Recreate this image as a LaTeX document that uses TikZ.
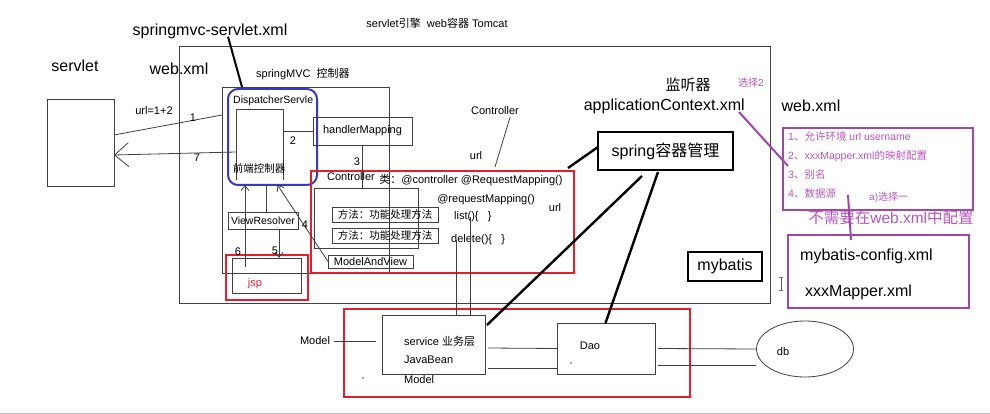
\documentclass[tikz,border=0pt]{standalone}
\usepackage{fontspec}
\setmainfont{Liberation Sans}
\newfontfamily\cjk{Noto Sans CJK SC}
\usetikzlibrary{arrows.meta,calc,shapes.geometric}
\definecolor{myred}{RGB}{228,30,45}
\definecolor{myblue}{RGB}{55,55,200}
\definecolor{mypurple}{RGB}{160,70,170}
\definecolor{ptext}{RGB}{185,85,190}
\begin{document}
\begin{tikzpicture}[x=1pt,y=-1pt,
  box/.style={draw=black!75,line width=0.8pt,inner sep=0pt,outer sep=0pt,anchor=north west},
  lbl/.style={inner sep=0pt,font=\fontsize{11}{13}\selectfont},
  sml/.style={inner sep=0pt,font=\fontsize{10.5}{12}\selectfont},
  big/.style={inner sep=0pt,font=\fontsize{16}{19}\selectfont},
  plbl/.style={inner sep=0pt,text=ptext,font=\fontsize{10.5}{12}\selectfont,anchor=west},
  thinline/.style={draw=black!75,line width=0.8pt},
  thickline/.style={draw=black,line width=2.4pt},
  redbox/.style={box,draw=myred,line width=2pt},
  purplebox/.style={box,draw=mypurple,line width=2pt},
  smallarrow/.style={-{Straight Barb[length=5pt,width=8pt]}}
]
\useasboundingbox[fill=white] (0,0) rectangle (990,414);

% ---------- texts on top ----------
\node[big] (smx) at (210,31) {springmvc-servlet.xml};
\node[big] (tservlet) at (75,66) {servlet};
\node[big] (twebxml) at (179,69) {web.xml};
\node[lbl] (ttomcat) at (437,23) {servlet{\cjk 引擎}\ \ web{\cjk 容器} Tomcat};
\node[lbl,anchor=west] (tsmvc) at (256,74) {springMVC\ \ {\cjk 控制器}};

% ---------- boxes ----------
\node[box,minimum width=67pt,minimum height=87pt] (servlet) at (47,99) {};
\node[box,minimum width=591pt,minimum height=257pt] (tomcat) at (179,46) {};
\node[box,minimum width=167pt,minimum height=186pt] (smvc) at (222,87) {};
\node[box,draw=myblue,line width=2pt,rounded corners=10pt,minimum width=89pt,minimum height=96pt] (disp) at (228,89) {};
\node[sml,anchor=west] (dstext) at (233,101) {DispatcherServle};
\node[inner sep=0pt,outer sep=0pt,anchor=north west,minimum width=47pt,minimum height=71pt] (front) at (236,109) {};
\draw[thinline] (front.south west) -- (front.north west) -- (front.north east) -- (front.south east);
\node[sml] (fronttext) at (259,168) {\cjk 前端控制器};

\node[box,minimum width=99pt,minimum height=28pt,font=\fontsize{11}{13}\selectfont] (hm) at (313,117) {handlerMapping};

\node[redbox,minimum width=263pt,minimum height=102pt] (ctrl) at (311,171) {};
\node[box,minimum width=104pt,minimum height=60pt] (meth) at (314,188) {};
\node[box,minimum width=106pt,minimum height=15pt,font=\fontsize{10.5}{12}\selectfont] (m1) at (332,207) {\cjk 方法：功能处理方法};
\node[box,minimum width=106pt,minimum height=15pt,font=\fontsize{10.5}{12}\selectfont] (m2) at (332,228) {\cjk 方法：功能处理方法};
\node[box,minimum width=85pt,minimum height=13pt,font=\fontsize{11}{13}\selectfont] (mav) at (328,255) {ModelAndView};

\node[box,minimum width=70pt,minimum height=17pt,font=\fontsize{10.5}{12}\selectfont] (vr) at (228,212) {ViewResolver};
\node[redbox,minimum width=82pt,minimum height=45pt] (jspr) at (226,255) {};
\node[box,minimum width=69pt,minimum height=35pt] (jsp) at (232,258) {};
\node[lbl,text=myred] (jsptext) at (255,284) {jsp};

% texts inside controller area
\node[lbl] (ctrllbl) at (495,111) {Controller};
\node[lbl] (urltop) at (476,156) {url};
\node[lbl] (ctrlin) at (351,177) {Controller};
\node[lbl] (lei) at (471,180) {{\cjk 类：}@controller @RequestMapping()};
\node[lbl] (reqm) at (486,200) {@requestMapping()};
\node[lbl,anchor=west] (listtxt) at (454,217) {list()\{\ \ \ \}};
\node[lbl,anchor=west] (deltxt) at (451,240) {delete()\{\ \ \ \}};
\node[lbl] (urlin) at (555,208) {url};

% ---------- right side ----------
\node[inner sep=0pt,font=\fontsize{15}{18}\selectfont] (listener) at (688,85) {\cjk 监听器};
\node[big,anchor=east] (appctx) at (745,106) {applicationContext.xml};
\node[inner sep=0pt,text=ptext,font=\fontsize{10}{12}\selectfont] (sel2) at (751,83) {{\cjk 选择}2};
\node[big] (twebxml2) at (811,106) {web.xml};
\node[box,draw=black,line width=2.4pt,minimum width=135pt,minimum height=38pt,font=\fontsize{16}{19}\selectfont] (spring) at (598,132) {spring{\cjk 容器管理}};
\node[box,draw=black,line width=2pt,minimum width=74pt,minimum height=29pt,font=\fontsize{16}{19}\selectfont] (mybatis) at (688,252) {mybatis};

\node[purplebox,minimum width=190pt,minimum height=82pt] (cfg) at (783,128) {};
\node[plbl] (p1) at (788,136) {1{\cjk 、允许环境} url username};
\node[plbl] (p2) at (788,156) {2{\cjk 、}xxxMapper.xml{\cjk 的映射配置}};
\node[plbl] (p3) at (788,175) {3{\cjk 、别名}};
\node[plbl] (p4) at (788,194) {4{\cjk 、数据源}};
\node[plbl,font=\fontsize{10}{12}\selectfont] (psel1) at (869,197) {a){\cjk 选择一}};
\node[inner sep=0pt,text=ptext,font=\fontsize{15.5}{18}\selectfont] (noneed) at (891,218) {{\cjk 不需要在}web.xml{\cjk 中配置}};
\node[purplebox,minimum width=181pt,minimum height=73pt] (mbcfg) at (788,235) {};
\node[big,anchor=west] (mbc) at (800,256) {mybatis-config.xml};
\node[big,anchor=west] (xmap) at (805,292) {xxxMapper.xml};

% ---------- bottom ----------
\node[redbox,minimum width=346pt,minimum height=88pt] (svcarea) at (344,309) {};
\node[box,minimum width=103pt,minimum height=59pt] (service) at (382,315) {};
\node[lbl,anchor=west] (svct) at (404,341) {service {\cjk 业务层}};
\node[lbl,anchor=west] (jbt) at (404,360) {JavaBean};
\node[lbl,anchor=west] (model2) at (404,380) {Model};
\node[lbl] (model1) at (315,341) {Model};
\node[box,minimum width=98pt,minimum height=51pt] (dao) at (557,323) {};
\node[lbl] (daot) at (590,346) {Dao};
\node[draw=black!75,line width=0.8pt,ellipse,minimum width=97pt,minimum height=56pt,inner sep=0pt] (db) at (805,349) {};
\node[lbl] (dbt) at (783,352) {db};

% ---------- connectors ----------
\draw[thinline] ([yshift=7.5pt]servlet.east) -- ([yshift=65pt]smvc.west);
\node[lbl] (n1) at (193,118) {1};
\node[lbl] (url12) at (154,111) {url=1+2};
\draw[thinline,-{Straight Barb[length=14pt,width=24pt]}] ([yshift=-7.5pt]front.west) -- ([yshift=-12.5pt]servlet.east);
\node[lbl] (n7) at (197,158) {7};
\draw[thinline] (front.east |- hm.west) -- (hm.west);
\node[lbl] (n2) at (293,141) {2};
\draw[thinline] (hm.south) -- (hm.south |- meth.north);
\node[lbl] (n3) at (357,162) {3};
\draw[thinline,smallarrow] (mav.west) -- ([xshift=5pt]disp.south);
\node[lbl] (n4) at (305,225) {4};
\draw[thinline,smallarrow] ([xshift=16pt]vr.south) -- ([xshift=12.5pt]jsp.north);
\node[lbl] (n5) at (275,251) {5};
\draw[thinline,smallarrow] ([xshift=-21.5pt,yshift=-9pt]jsp.north) -- ([xshift=-27.5pt]disp.south);
\node[lbl] (n6) at (238,252) {6};
\draw[thinline] ([xshift=3.5pt]vr.north) -- ([xshift=-6pt]disp.south);

\draw[thinline] ([xshift=-9pt,yshift=-2pt]ctrllbl.south east) -- ([xshift=52.5pt,yshift=4pt]ctrl.north);
\draw[thinline] ([xshift=36.5pt]service.north) -- ([xshift=36.5pt]service.north |- listtxt.center);
\draw[thinline] ([xshift=23pt]service.north) -- ([xshift=23pt]service.north |- deltxt.center);

\draw[thinline] ([xshift=4pt]model1.east) -- ([xshift=-6pt]service.west |- model1.east);
\draw[thinline] ([xshift=3pt,yshift=-3.5pt]service.east) -- (dao.west);
\draw[thinline] ([xshift=3pt,yshift=-23.5pt]service.east) -- ([yshift=-19.5pt]dao.west);
\draw[thinline] ([xshift=3pt]dao.east) -- (db.west);
\draw[thinline] ([xshift=3pt,yshift=-16.5pt]dao.east) -- ([yshift=-16pt]db.west);

\draw[thickline,line width=2pt] ([xshift=18pt,yshift=2pt]smx.south) -- ([xshift=-30.5pt,yshift=2pt]disp.north);
\draw[thickline] ([yshift=4pt]spring.west) -- ([xshift=-6pt,yshift=3pt]ctrl.north east);
\draw[thickline] ([xshift=-23.5pt,yshift=-6pt]spring.south) -- ([xshift=2pt,yshift=-10pt]service.north east);
\draw[thickline] ([xshift=-7.5pt,yshift=-2pt]spring.south) -- ([xshift=-0.5pt]dao.north);

\draw[draw=mypurple,line width=2pt] ([xshift=-6pt,yshift=-6pt]appctx.east) -- ([xshift=5pt,yshift=3pt]cfg.west);
\draw[draw=mypurple,line width=2pt] ([xshift=-30pt,yshift=15pt]cfg.south) -- ([xshift=-27.5pt,yshift=-5pt]mbcfg.north);

% small marks
\fill[black!70] (363,378) circle (0.8pt);
\fill[black!70] (571,363) circle (0.8pt);
\draw[black!60,line width=0.7pt] (781,277) -- (781,290) (779,277) -- (783,277) (779,290) -- (783,290);
\draw[black!25,line width=0.8pt] (0,413) -- (990,413);
\end{tikzpicture}
\end{document}
